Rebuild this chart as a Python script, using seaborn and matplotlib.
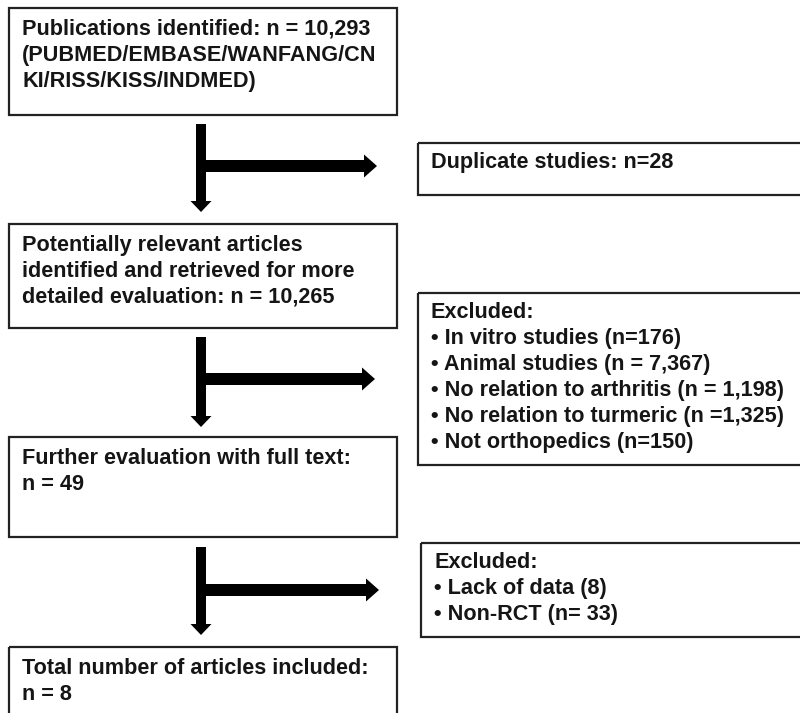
import matplotlib
matplotlib.use("Agg")
import matplotlib.pyplot as plt
from matplotlib.patches import Rectangle, FancyArrow
import seaborn as sns

# ---- content ----
main_texts = [
    "Publications identified: n = 10,293\n(PUBMED/EMBASE/WANFANG/CN\nKI/RISS/KISS/INDMED)",
    "Potentially relevant articles\nidentified and retrieved for more\ndetailed evaluation: n = 10,265",
    "Further evaluation with full text:\nn = 49",
    "Total number of articles included:\nn = 8",
]
side_texts = [
    "Duplicate studies: n=28",
    "Excluded:\n\u2022 In vitro studies (n=176)\n\u2022 Animal studies (n = 7,367)\n\u2022 No relation to arthritis (n = 1,198)\n\u2022 No relation to turmeric (n =1,325)\n\u2022 Not orthopedics (n=150)",
    "Excluded:\n\u2022 Lack of data (8)\n\u2022 Non-RCT (n= 33)",
]

# ---- layout (pixels, y downward) ----
main_boxes = [(9, 8, 388, 107), (9, 224, 388, 104), (9, 437, 388, 100), (9, 647, 388, 90)]
side_boxes = [(418, 143, 400, 52), (418, 293, 400, 172), (421, 543, 400, 94)]
arrows = [  # (x, y_top, y_tip, y_horiz, x_tip)
    (201, 124, 212, 166, 377),
    (201, 337, 427, 379, 375),
    (201, 547, 635, 590, 379),
]

sns.set_theme(style="white")
plt.rcParams['font.family'] = ['Liberation Sans', 'DejaVu Sans']

fig = plt.figure(figsize=(8.0, 7.13), dpi=100)
ax = fig.add_axes([0, 0, 1, 1])
ax.set_xlim(0, 800)
ax.set_ylim(713, 0)
ax.axis("off")

edge = "#222222"
txt_kw = dict(fontsize=15.6, fontweight="bold", color="#151515",
              va="top", ha="left", linespacing=1.31)

for (x, y, w, h), t in zip(main_boxes, main_texts):
    ax.add_patch(Rectangle((x, y), w, h, fill=False, edgecolor=edge, lw=1.6))
    ax.text(x + 13, y + 11, t, **txt_kw)

for (x, y, w, h), t in zip(side_boxes, side_texts):
    ax.add_patch(Rectangle((x, y), w, h, fill=False, edgecolor=edge, lw=1.6))
    ax.text(x + 13, y + 9, t, **txt_kw)

for (x, yt, ytip, yh, xtip) in arrows:
    ax.add_patch(FancyArrow(x, yt, 0, ytip - yt, width=10, head_width=21,
                            head_length=11, length_includes_head=True,
                            color="black", lw=0))
    ax.add_patch(FancyArrow(x, yh, xtip - x, 0, width=12, head_width=23,
                            head_length=13, length_includes_head=True,
                            color="black", lw=0))

fig.savefig("out.png", dpi=100)
